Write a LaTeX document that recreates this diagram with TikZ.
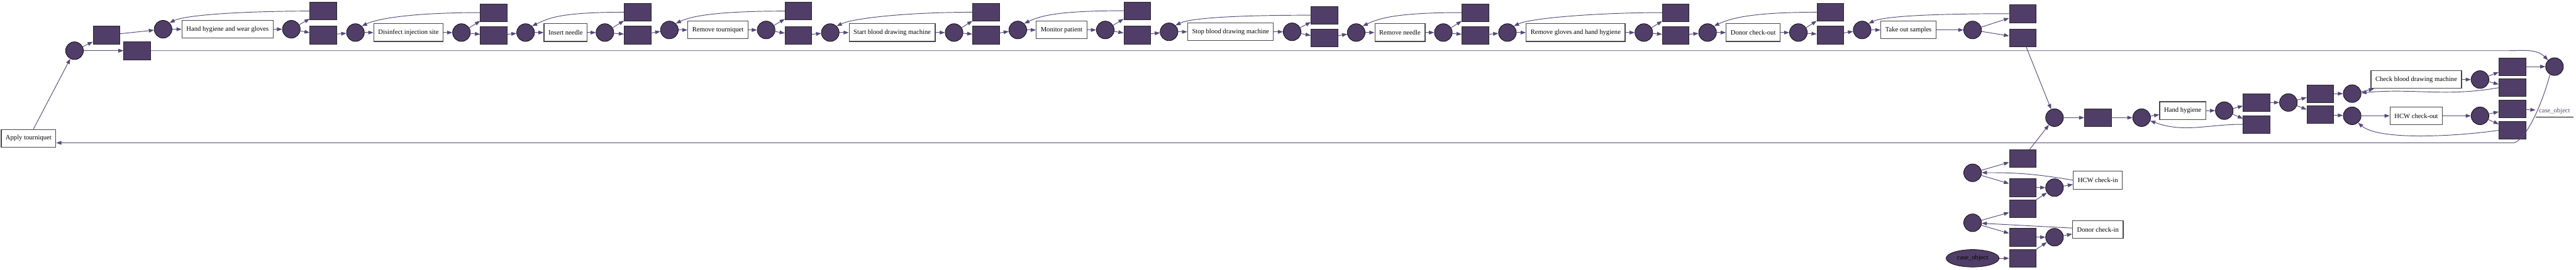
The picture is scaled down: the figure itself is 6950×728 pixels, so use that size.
\documentclass[tikz,border=0pt]{standalone}
\usepackage{fontspec}
\setmainfont{Liberation Serif}
\usetikzlibrary{arrows.meta,shapes.geometric}
\definecolor{placefill}{RGB}{80,62,104}
\definecolor{arcink}{RGB}{86,72,122}
\definecolor{actline}{RGB}{72,72,72}

\begin{document}
\begin{tikzpicture}[x=1pt, y=1pt,
    font=\fontsize{18}{20}\selectfont,
    place/.style={circle, draw=black, line width=1.2pt, fill=placefill, minimum size=48pt, inner sep=0pt},
    trans/.style={rectangle, draw=black!85, line width=1.2pt, fill=placefill, minimum width=72pt, minimum height=48pt, inner sep=0pt},
    activity/.style={rectangle, draw=actline, line width=2pt, fill=white, minimum height=48pt, inner xsep=12pt, inner ysep=0pt},
    arc/.style={draw=arcink, line width=1.6pt, -{Triangle[length=14pt, width=10pt]}}]
  \useasboundingbox (0,0) rectangle (6950,-728);

  % start
  \node[activity] (apply) at (77,-374) {Apply tourniquet};
  \node[place] (pstart) at (201,-137) {};
  \node[trans] (tenter) at (287,-95) {};
  \node[trans] (tskip) at (370,-137) {};
  \draw[arc] (apply) -- (pstart);
  \draw[arc] (pstart) -- (tenter);
  \draw[arc] (pstart) -- (tskip);

  % main sequence along the top
  \foreach \i/\ix/\iy/\bx/\lbl/\ox/\sx/\uy/\ly in {
      1/440/79/614/Hand hygiene and wear gloves/786/872/30/95,
      2/959/88/1102/Disinfect injection site/1245/1332/34/96,
      3/1418/88/1526/Insert needle/1632/1720/33/95,
      4/1806/81/1937/Remove tourniquet/2067/2154/30/96,
      5/2240/88/2407/Start blood drawing machine/2574/2660/33/95,
      6/2746/81/2864/Monitor patient/2982/3068/29/95,
      7/3154/86/3320/Stop blood drawing machine/3486/3573/41/103,
      8/3659/88/3777/Remove needle/3894/3980/34/96,
      9/4067/88/4251/Remove gloves and hand hygiene/4435/4521/34/96,
      10/4607/88/4730/Donor check-out/4852/4938/33/95,
      11/5024/81/5149/Take out samples/5322/5457/37/103} {
    \node[place] (pin\i) at (\ix,-\iy) {};
    \node[activity] (act\i) at (\bx,-\iy) {\lbl};
    \node[place] (pout\i) at (\ox,-\iy) {};
    \node[trans] (tup\i) at (\sx,-\uy) {};
    \node[trans] (tlo\i) at (\sx,-\ly) {};
    \draw[arc] (pin\i) -- (act\i);
    \draw[arc] (act\i) -- (pout\i);
    \draw[arc] (pout\i) -- (tup\i);
    \draw[arc] (pout\i) -- (tlo\i);
    \draw[arc] (tup\i.west) .. controls +(-170,0) and +(45,22) .. (pin\i.north east);
  }
  \draw[arc] (tenter) -- (pin1);
  \foreach \i [evaluate=\i as \j using int(\i+1)] in {1,...,10}
    \draw[arc] (tlo\i) -- (pin\j);

  % staff and donor check-in
  \node[place] (pstaff) at (5322,-467) {};
  \node[trans] (tstaffup) at (5457,-428) {};
  \node[trans] (tstaffin) at (5457,-507) {};
  \node[place] (pstaffin) at (5543,-507) {};
  \node[activity] (acthcwin) at (5660,-487) {HCW check-in};
  \node[trans] (tdonorhcw) at (5457,-564) {};
  \node[place] (pdonor) at (5322,-602) {};
  \node[trans] (tdonorin) at (5457,-641) {};
  \node[place] (pdonorin) at (5543,-641) {};
  \node[activity] (actdonorin) at (5660,-620) {Donor check-in};
  \node[ellipse, draw=black, line width=1.2pt, fill=placefill, minimum width=143pt, minimum height=47pt, inner sep=0pt] (caseobj) at (5322,-698) {case\_object};
  \node[trans] (tcaseobj) at (5457,-698) {};
  \draw[arc] (pstaff) -- (tstaffup);
  \draw[arc] (pstaff) -- (tstaffin);
  \draw[arc] (tstaffin) -- (pstaffin);
  \draw[arc] (tdonorhcw) -- (pstaffin);
  \draw[arc] (pstaffin) -- (acthcwin);
  \draw[arc] (acthcwin.west) to[bend right=5] (pstaff);
  \draw[arc] (pdonor) -- (tdonorhcw);
  \draw[arc] (pdonor) -- (tdonorin);
  \draw[arc] (tdonorin) -- (pdonorin);
  \draw[arc] (tcaseobj) -- (pdonorin);
  \draw[arc] (pdonorin) -- (actdonorin);
  \draw[arc] (actdonorin) -- (pdonor);
  \draw[arc] (caseobj) -- (tcaseobj);

  % join and closing part
  \node[place] (pjoin) at (5543,-318) {};
  \node[trans] (tjoin) at (5660,-318) {};
  \node[place] (phh) at (5778,-318) {};
  \node[activity] (acthh) at (5889,-299) {Hand hygiene};
  \node[place] (phhout) at (6001,-299) {};
  \node[trans] (thhup) at (6088,-277) {};
  \node[trans] (thhlo) at (6088,-336) {};
  \node[place] (psplit) at (6174,-277) {};
  \node[trans] (tcbm) at (6260,-253) {};
  \node[trans] (thcw) at (6260,-310) {};
  \node[place] (pcbm) at (6346,-253) {};
  \node[activity] (actcbm) at (6519,-215) {Check blood drawing machine};
  \node[place] (pcbmout) at (6691,-215) {};
  \node[trans] (tcbmdone) at (6778,-180) {};
  \node[trans] (tcbmloop) at (6778,-237) {};
  \node[place] (phcw) at (6346,-313) {};
  \node[activity] (acthcwout) at (6519,-313) {HCW check-out};
  \node[place] (phcwout) at (6691,-313) {};
  \node[trans] (tcase) at (6778,-294) {};
  \node[trans] (thcwloop) at (6778,-352) {};
  \node[place] (pend) at (6892,-180) {};
  \node[text=arcink, inner xsep=9pt, inner ysep=8pt] (sinklbl) at (6892,-300) {case\_object};
  \draw[line width=1.2pt] (sinklbl.south west) -- (sinklbl.south east);

  \draw[arc] (tlo11) -- (pjoin);
  \draw[arc] (tstaffup) -- (pjoin);
  \draw[arc] (pjoin) -- (tjoin);
  \draw[arc] (tjoin) -- (phh);
  \draw[arc] (phh) -- (acthh);
  \draw[arc] (acthh) -- (phhout);
  \draw[arc] (phhout) -- (thhup);
  \draw[arc] (phhout) -- (thhlo);
  \draw[arc] (thhlo.west) to[out=180, in=-20] (phh);
  \draw[arc] (thhup) -- (psplit);
  \draw[arc] (psplit) -- (tcbm);
  \draw[arc] (psplit) -- (thcw);
  \draw[arc] (tcbm) -- (pcbm);
  \draw[arc] (pcbm) -- (actcbm);
  \draw[arc] (actcbm) -- (pcbmout);
  \draw[arc] (pcbmout) -- (tcbmdone);
  \draw[arc] (pcbmout) -- (tcbmloop);
  \draw[arc] (tcbmloop.west) to[out=190, in=5] (pcbm);
  \draw[arc] (tcbmdone) -- (pend);
  \draw[arc] (thcw) -- (phcw);
  \draw[arc] (phcw) -- (acthcwout);
  \draw[arc] (acthcwout) -- (phcwout);
  \draw[arc] (phcwout) -- (tcase);
  \draw[arc] (phcwout) -- (thcwloop);
  \draw[arc] (thcwloop.west) .. controls +(-100,-15) and +(60,-50) .. (phcw.-50);
  \draw[arc] (tcase) -- (sinklbl);

  % long connectors
  \coordinate (skipbend) at (6765,-137);
  \coordinate (loopbend) at (6780,-386);
  \draw[arc] (tskip.east) -- (skipbend) to[out=0, in=135] (pend);
  \draw[arc] (pend.240) .. controls +(-30,-110) and +(25,0) .. (loopbend) -- (apply.east |- loopbend);
\end{tikzpicture}
\end{document}
